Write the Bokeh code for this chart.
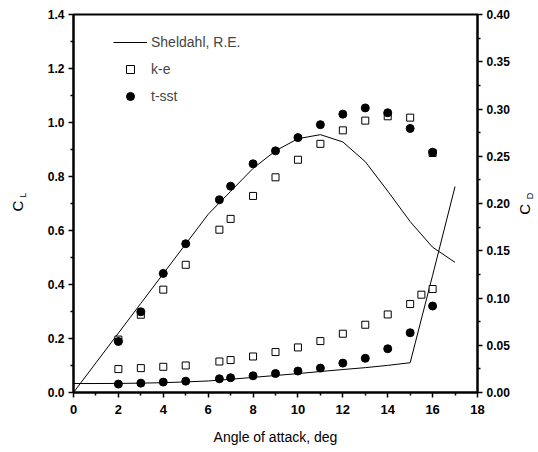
import numpy as np
from bokeh.plotting import figure
from bokeh.layouts import row
from bokeh.models import (Range1d, LinearAxis, FixedTicker, NumeralTickFormatter,
                          Legend, LegendItem)
from bokeh.core.properties import value
from bokeh.embed import file_html
from bokeh.resources import INLINE

# ---- data ----
alpha_exp = [0, 1, 2, 3, 4, 5, 6, 7, 8, 9, 10, 11, 12, 13, 14, 15, 16, 17]
cl_exp = [0.0, 0.11, 0.22, 0.33, 0.44, 0.55, 0.66, 0.745, 0.83, 0.895, 0.94, 0.955,
          0.928, 0.855, 0.746, 0.633, 0.538, 0.482]
cd_exp = [0.0095, 0.0095, 0.0096, 0.0099, 0.0104, 0.0112, 0.0122, 0.0140, 0.0160, 0.0180,
          0.0200, 0.0222, 0.0243, 0.0263, 0.0287, 0.0315, 0.124, 0.218]

alpha_cl = [2, 3, 4, 5, 6.5, 7, 8, 9, 10, 11, 12, 13, 14, 15, 16]
cl_ke = [0.196, 0.288, 0.381, 0.473, 0.603, 0.643, 0.728, 0.797, 0.862, 0.921, 0.971,
         1.007, 1.023, 1.018, 0.887]
cl_sst = [0.189, 0.299, 0.441, 0.551, 0.714, 0.764, 0.847, 0.895, 0.944, 0.992, 1.031,
          1.054, 1.036, 0.978, 0.890]

alpha_cd_ke = [2, 3, 4, 5, 6.5, 7, 8, 9, 10, 11, 12, 13, 14, 15, 15.5, 16]
cd_ke = [0.0248, 0.0258, 0.0272, 0.0286, 0.0328, 0.0343, 0.0381, 0.0428, 0.0477, 0.0544,
         0.0622, 0.0717, 0.0826, 0.0936, 0.1035, 0.1095]
alpha_cd_sst = [2, 3, 4, 5, 6.5, 7, 8, 9, 10, 11, 12, 13, 14, 15, 16]
cd_sst = [0.0089, 0.0099, 0.0110, 0.0120, 0.0145, 0.0156, 0.0177, 0.0201, 0.0227, 0.0258,
          0.0311, 0.0362, 0.0463, 0.0632, 0.0915]

# ---- ticks ----
x_ticks = [0, 2, 4, 6, 8, 10, 12, 14, 16, 18]
x_minor = [1, 3, 5, 7, 9, 11, 13, 15, 17]
cl_ticks = [0.0, 0.2, 0.4, 0.6, 0.8, 1.0, 1.2, 1.4]
cl_minor = [0.1, 0.3, 0.5, 0.7, 0.9, 1.1, 1.3]
cd_ticks = [0.0, 0.05, 0.10, 0.15, 0.20, 0.25, 0.30, 0.35, 0.40]
cd_minor = [0.025, 0.075, 0.125, 0.175, 0.225, 0.275, 0.325, 0.375]

FONT = "Liberation Sans"
W, H = 538, 452
LW, RW = 30, 26          # widths of the side strips holding the rotated axis titles
FL, FR, FT, FB = 73, 478, 14, 392   # frame edges in page pixels
PW = W - LW - RW

p = figure(width=PW, height=H, x_range=Range1d(0, 18), y_range=Range1d(0, 1.4),
           output_backend="svg", toolbar_location=None,
           min_border_left=FL - LW, min_border_right=(LW + PW) - FR, min_border_top=FT,
           min_border_bottom=H - FB)
p.extra_y_ranges = {"cd": Range1d(0, 0.4)}
p.xgrid.grid_line_color = None
p.ygrid.grid_line_color = None
p.outline_line_color = "black"
p.outline_line_width = 2
p.background_fill_color = "white"
p.border_fill_color = "white"

rax = LinearAxis(y_range_name="cd")
p.add_layout(rax, "right")

p.xaxis.ticker = FixedTicker(ticks=x_ticks, minor_ticks=x_minor)
p.yaxis[0].ticker = FixedTicker(ticks=cl_ticks, minor_ticks=cl_minor)
rax.ticker = FixedTicker(ticks=cd_ticks, minor_ticks=cd_minor)
p.yaxis[0].formatter = NumeralTickFormatter(format="0.0")
rax.formatter = NumeralTickFormatter(format="0.00")

for ax in [p.xaxis[0], p.yaxis[0], rax]:
    ax.axis_line_width = 2
    ax.axis_line_color = "black"
    ax.major_tick_in = 0
    ax.major_tick_out = 5
    ax.minor_tick_in = 0
    ax.minor_tick_out = 3
    ax.major_tick_line_width = 1.5
    ax.minor_tick_line_width = 1.5
    ax.major_tick_line_color = "black"
    ax.minor_tick_line_color = "black"
    ax.major_label_text_font = FONT
    ax.major_label_text_font_style = "bold"
    ax.major_label_text_font_size = "12px"
    ax.major_label_text_color = "black"
    ax.major_label_standoff = 4

p.xaxis.major_label_text_font_size = "13px"
p.xaxis.major_label_standoff = 7
p.xaxis.axis_label = "Angle of attack, deg"
p.xaxis.axis_label_text_font = FONT
p.xaxis.axis_label_text_font_style = "normal"
p.xaxis.axis_label_text_font_size = "14px"
p.xaxis.axis_label_text_color = "black"
p.xaxis.axis_label_standoff = 12

# series
l_cl = p.line(alpha_exp, cl_exp, line_color="black", line_width=1)
p.line(alpha_exp, cd_exp, line_color="black", line_width=1, y_range_name="cd")
s_cl = p.scatter(alpha_cl, cl_ke, marker="square", size=7, fill_color="white",
                 line_color="black", line_width=1)
p.scatter(alpha_cd_ke, cd_ke, marker="square", size=7, fill_color="white",
          line_color="black", line_width=1, y_range_name="cd")
c_cl = p.scatter(alpha_cl, cl_sst, marker="circle", size=8, fill_color="black",
                 line_color="black")
p.scatter(alpha_cd_sst, cd_sst, marker="circle", size=8, fill_color="black",
          line_color="black", y_range_name="cd")

legend = Legend(items=[LegendItem(label="Sheldahl, R.E.", renderers=[l_cl]),
                       LegendItem(label="k-e", renderers=[s_cl]),
                       LegendItem(label="t-sst", renderers=[c_cl])],
                location=(40, 286), glyph_width=34, glyph_height=20, label_height=20,
                spacing=7, padding=0, margin=0, label_standoff=4,
                border_line_color=None, background_fill_alpha=0,
                label_text_font=FONT, label_text_font_size="14px")
p.add_layout(legend)


# side strips carrying the rotated axis titles C_L and C_D
def strip(width, texts):
    s = figure(width=width, height=H, x_range=Range1d(0, width), y_range=Range1d(0, H),
               output_backend="svg", toolbar_location=None, title=None,
               x_axis_location=None, y_axis_location=None,
               min_border=0, min_border_left=0, min_border_right=0,
               min_border_top=0, min_border_bottom=0)
    s.xgrid.grid_line_color = None
    s.ygrid.grid_line_color = None
    s.outline_line_color = None
    s.background_fill_color = "white"
    s.border_fill_color = "white"
    for (x, y, t, size) in texts:
        s.text(x=[x], y=[H - y], text=[t], angle=np.pi / 2, text_align="center",
               text_baseline="middle", text_font=value(FONT), text_font_size=size,
               text_color="black")
    return s

left = strip(LW, [(17, 229, "C", "15px"), (22, 216, "L", "9px")])
right = strip(RW, [(524 - LW - PW, 233, "C", "15px"), (529 - LW - PW, 217, "D", "9px")])

layout = row(left, p, right, spacing=0)
open("out.html", "w").write(file_html(layout, INLINE))
